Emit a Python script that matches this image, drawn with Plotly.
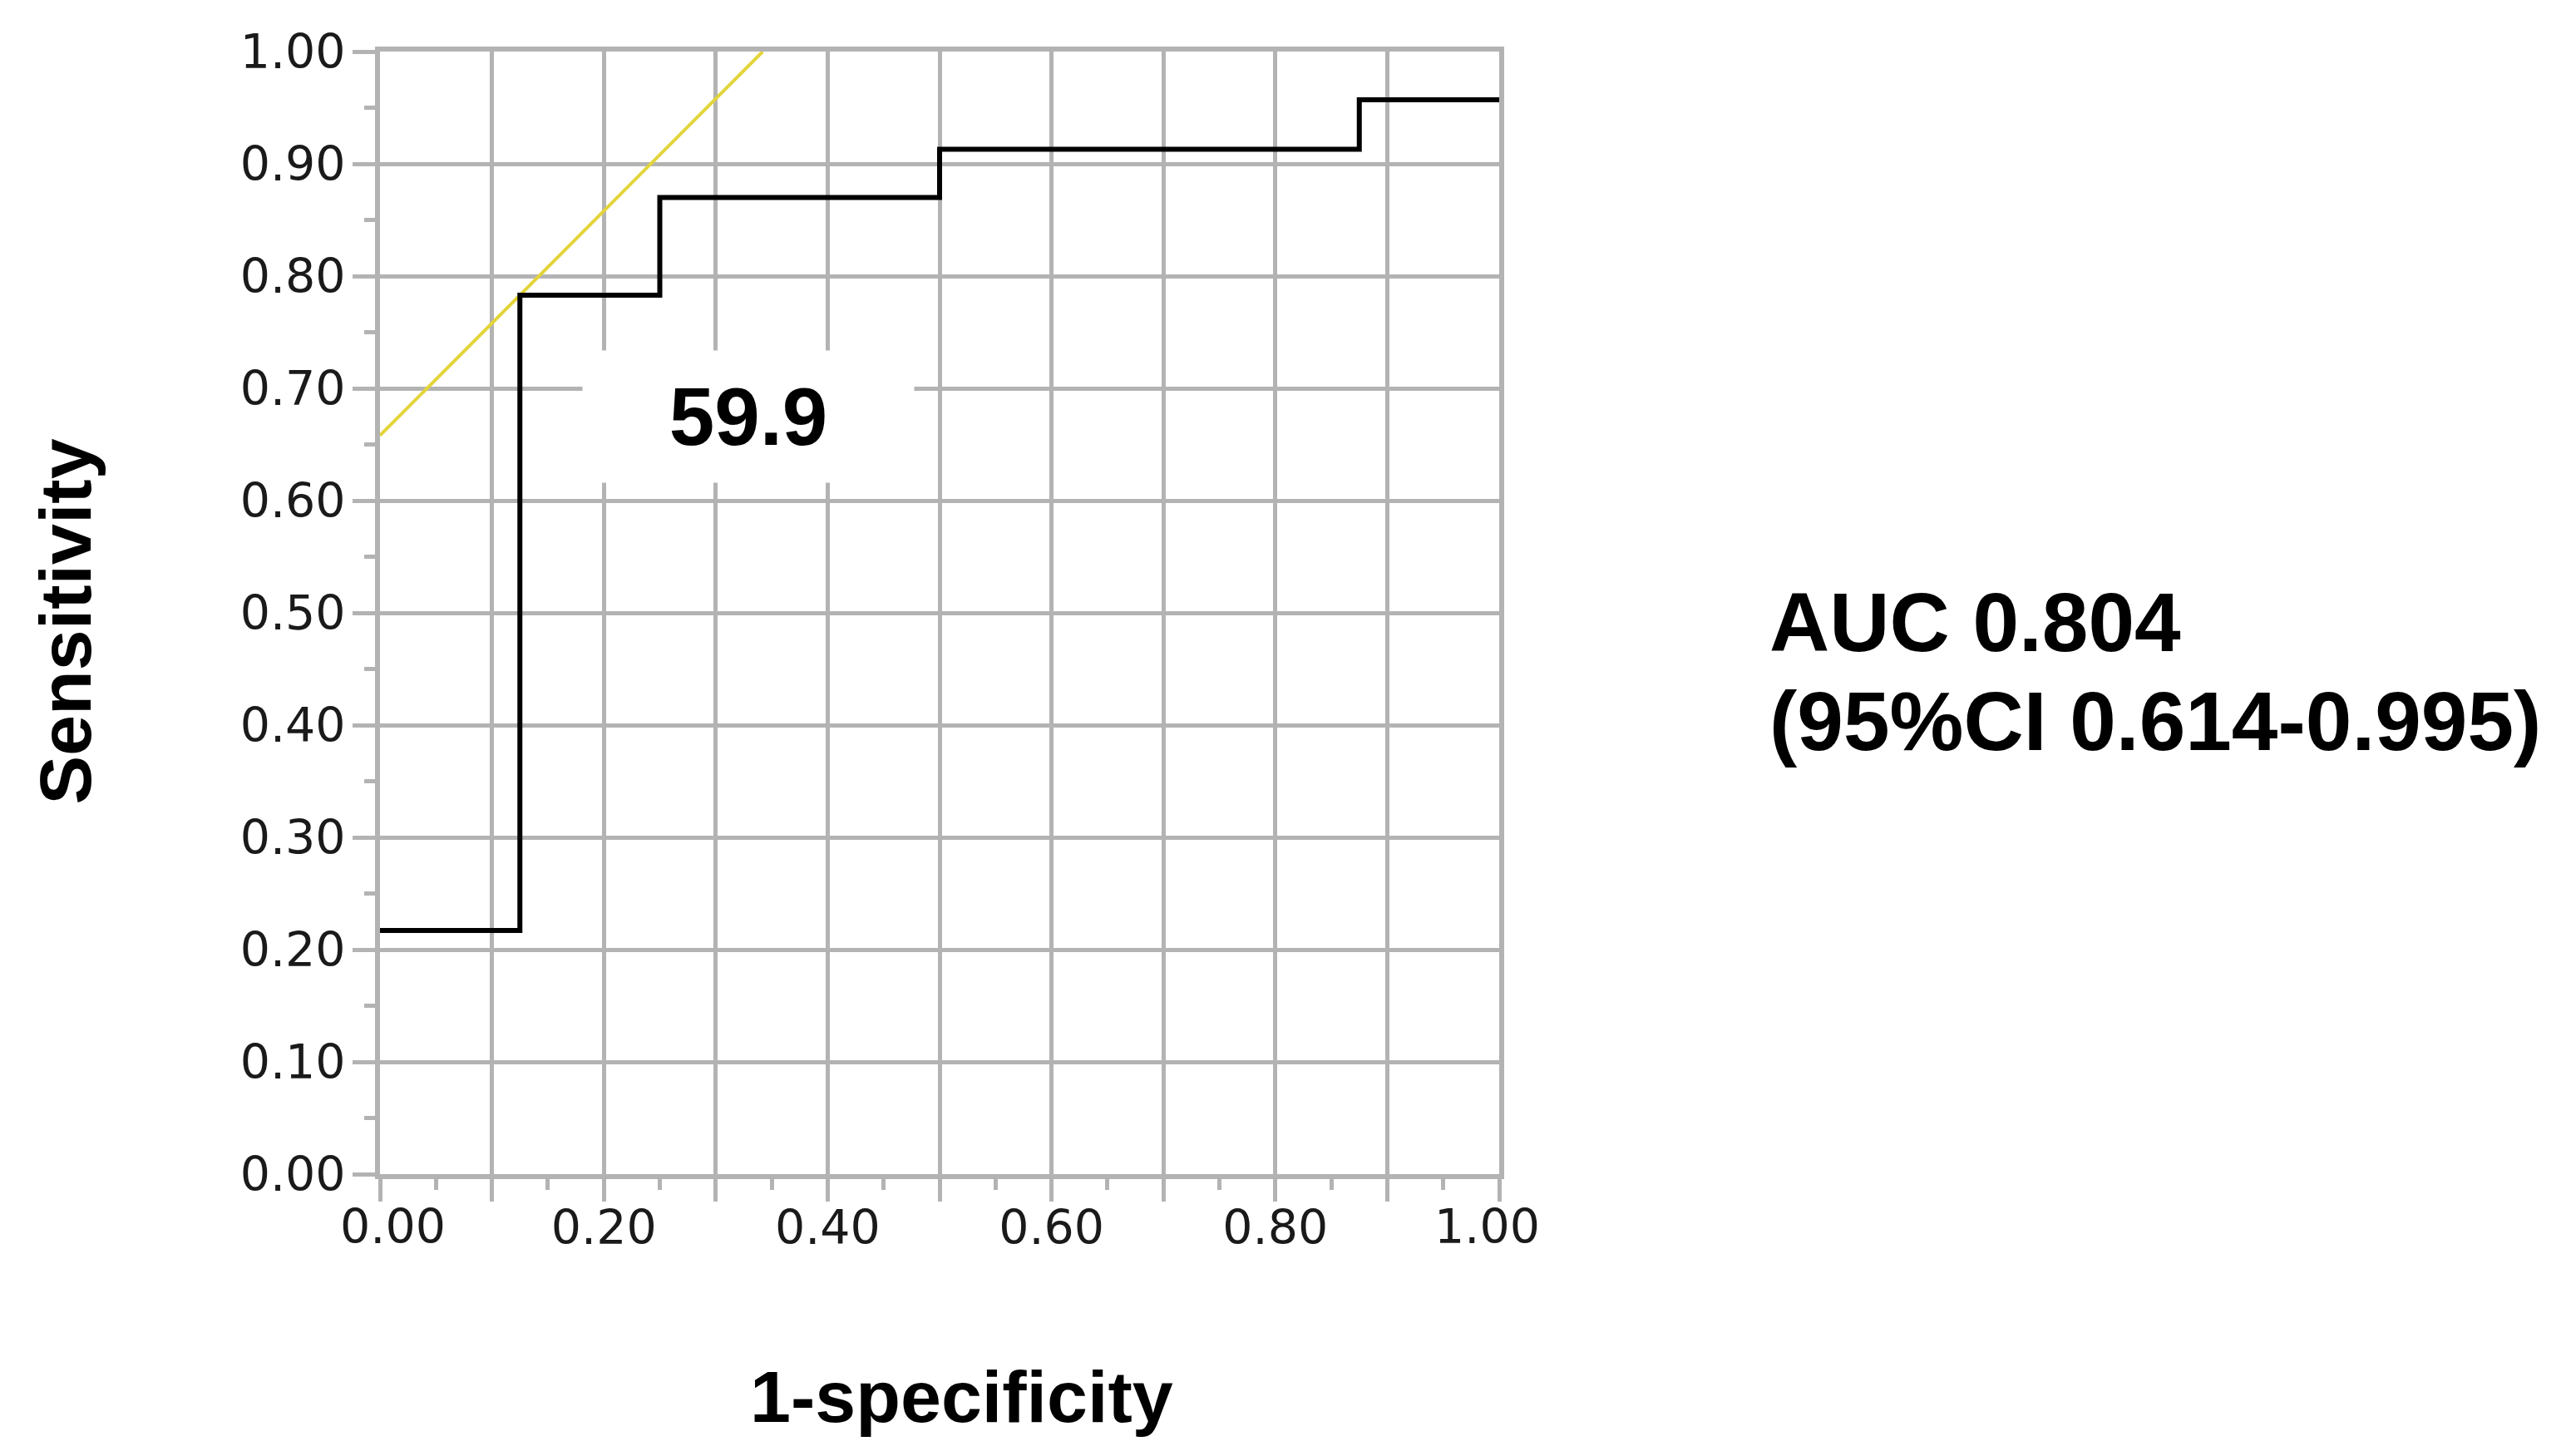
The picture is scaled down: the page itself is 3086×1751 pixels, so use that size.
import plotly.graph_objects as go

# ROC curve (step points)
fpr = [0.0, 0.125, 0.25, 0.5, 0.875, 1.0]
tpr = [0.217, 0.783, 0.870, 0.913, 0.957, 0.957]

# tangent / cutoff line
cut_x = [0.0, 0.342]
cut_y = [0.658, 1.0]

cutoff_label = "59.9"
auc_line1 = "AUC 0.804"
auc_line2 = "(95%CI 0.614-0.995)"

tick_vals = [0, 0.1, 0.2, 0.3, 0.4, 0.5, 0.6, 0.7, 0.8, 0.9, 1.0]
tick_text = ["", "", "0.20", "", "0.40", "", "0.60", "", "0.80", "", ""]
ytick_text = ["0.00", "0.10", "0.20", "0.30", "0.40", "0.50", "0.60", "0.70", "0.80", "0.90", "1.00"]
# end labels of the x axis sit a little inside, as in the original
end_vals = [0.0, 1.0]
end_text = ["0.00", "1.00"]

grid_col = "#b3b3b3"
bold_font = "Liberation Sans, Arial, sans-serif"
tick_font = dict(family="DejaVu Sans, Verdana, sans-serif", size=57, color="#1a1a1a")

fig = go.Figure()
fig.add_trace(go.Scatter(x=cut_x, y=cut_y, mode="lines",
                         line=dict(color="#e3d43a", width=4), showlegend=False))
fig.add_trace(go.Scatter(x=fpr, y=tpr, mode="lines", line_shape="hv",
                         line=dict(color="black", width=6), showlegend=False))

axis_common = dict(
    range=[0, 1], tickvals=tick_vals, showgrid=True, gridcolor=grid_col, gridwidth=5,
    zeroline=False, showline=True, linecolor=grid_col, linewidth=6, mirror=True,
    ticks="outside", ticklen=27, tickwidth=5, tickcolor=grid_col,
    tickfont=tick_font,
    minor=dict(dtick=0.05, tick0=0, ticks="outside", ticklen=13, tickwidth=5,
               tickcolor=grid_col, showgrid=False),
)
fig.update_xaxes(ticktext=tick_text, ticklabelstandoff=-17, **axis_common)
fig.update_yaxes(ticktext=ytick_text, ticklabelstandoff=-3, **axis_common)

for v, t, sh in zip(end_vals, end_text, [15, -15]):
    fig.add_annotation(x=v, y=0, xref="x", yref="paper", text=t, showarrow=False,
                       xanchor="center", yanchor="middle", xshift=sh, yshift=-63,
                       font=tick_font)

# label box over the grid
fig.add_annotation(x=0.329, y=0.675, xref="x", yref="y", text="<b>" + cutoff_label + "</b>",
                   showarrow=False, bgcolor="white", width=398, height=158, borderpad=0,
                   font=dict(family=bold_font, size=98, color="black"))

# axis titles
fig.add_annotation(x=-0.281, y=0.492, xref="paper", yref="paper", text="<b>Sensitivity</b>",
                   textangle=-90, showarrow=False, xanchor="center", yanchor="middle",
                   font=dict(family=bold_font, size=88, color="black"))
fig.add_annotation(x=0.52, y=-0.198, xref="paper", yref="paper", text="<b>1-specificity</b>",
                   showarrow=False, xanchor="center", yanchor="middle",
                   font=dict(family=bold_font, size=88, color="black"))

# AUC text
fig.add_annotation(x=1.24, y=0.492, xref="paper", yref="paper", text="<b>" + auc_line1 + "</b>",
                   showarrow=False, xanchor="left", yanchor="middle",
                   font=dict(family=bold_font, size=100, color="black"))
fig.add_annotation(x=1.24, y=0.404, xref="paper", yref="paper", text="<b>" + auc_line2 + "</b>",
                   showarrow=False, xanchor="left", yanchor="middle",
                   font=dict(family=bold_font, size=100, color="black"))

# page body adds 8px margin, so the figure is made 8px smaller
fig.update_layout(
    width=3078, height=1743,
    margin=dict(l=449, r=1283, t=54, b=339),
    plot_bgcolor="white", paper_bgcolor="white",
    showlegend=False,
)

fig.write_html("out.html")
